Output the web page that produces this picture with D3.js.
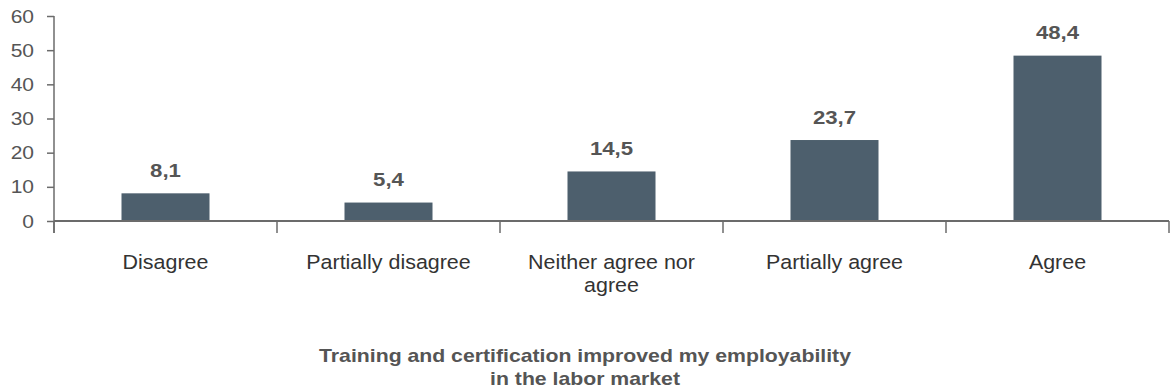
<!DOCTYPE html>
<html><head><meta charset="utf-8">
<script src="https://cdn.jsdelivr.net/npm/d3@7"></script>
<style>body{margin:0;background:#fff}svg{display:block}text{font-family:"Liberation Sans",Arial,sans-serif}</style>
</head><body><svg id="c" width="1170" height="392"></svg>
<script>
const categories = [["Disagree"],["Partially disagree"],["Neither agree nor","agree"],["Partially agree"],["Agree"]];
const values = [8.1, 5.4, 14.5, 23.7, 48.4];
const valueLabels = ["8,1","5,4","14,5","23,7","48,4"];
const yTicks = [0,10,20,30,40,50,60];
const titleLines = ["Training and certification improved my employability","in the labor market"];

const svg = d3.select("#c");
const x0 = 54, x1 = 1169, yTop = 16, yBot = 221;
const keys = categories.map((d,i)=>i);
const xb = d3.scaleBand().domain(keys).range([x0,x1]);
const y = d3.scaleLinear().domain([0,60]).range([yBot,yTop]);
const axisColor = "#6b6b6b", textColor = "#555";
const cx = i => xb(i)+xb.bandwidth()/2;

// bars
svg.selectAll("rect.bar").data(values).enter().append("rect")
  .attr("x",(d,i)=>cx(i)-44).attr("width",88)
  .attr("y",d=>y(d)).attr("height",d=>yBot-y(d)).attr("fill","#4d5f6d");

// value labels
svg.selectAll("text.val").data(values).enter().append("text")
  .attr("transform",(d,i)=>`translate(${cx(i)},${y(d)-16.5}) scale(1.2,1)`)
  .attr("text-anchor","middle").attr("font-weight","bold").attr("font-size",18.5)
  .attr("fill",textColor).text((d,i)=>valueLabels[i]);

// y axis
const ya = svg.append("g").attr("transform",`translate(${x0},0)`)
  .call(d3.axisLeft(y).tickValues(yTicks).tickSize(7).tickSizeOuter(0));
ya.select(".domain").attr("stroke",axisColor).attr("stroke-width",1.5).attr("d",`M0,${yTop}V${yBot+12}`);
ya.selectAll(".tick line").attr("stroke",axisColor).attr("stroke-width",1.5);
ya.selectAll(".tick text").attr("font-size",17.5).attr("fill",textColor)
  .attr("font-family","Liberation Sans, Arial, sans-serif")
  .attr("x",0).attr("dy","0.35em")
  .attr("transform","translate(-20,0) scale(1.2,1)");

// x axis
svg.append("line").attr("x1",x0).attr("x2",x1).attr("y1",yBot).attr("y2",yBot)
  .attr("stroke",axisColor).attr("stroke-width",2);
const bounds = keys.map(k=>xb(k)).concat([x1]);
svg.selectAll("line.xt").data(bounds).enter().append("line")
  .attr("x1",d=>d).attr("x2",d=>d).attr("y1",yBot).attr("y2",yBot+12)
  .attr("stroke",axisColor).attr("stroke-width",1.5);

// category labels
svg.selectAll("g.cat").data(categories).enter().append("g")
  .attr("transform",(d,i)=>`translate(${cx(i)},0) scale(1.1,1)`)
  .each(function(d){
    const g = d3.select(this);
    d.forEach((line,j)=>g.append("text").attr("x",0).attr("y",269+j*23)
      .attr("text-anchor","middle").attr("font-size",19.5).attr("fill","#333").text(line));
  });

// title
svg.selectAll("text.title").data(titleLines).enter().append("text")
  .attr("transform",(d,i)=>`translate(585,${362+i*23}) scale(1.18,1)`).attr("text-anchor","middle")
  .attr("font-weight","bold").attr("font-size",18).attr("fill",textColor).text(d=>d);
</script></body></html>
